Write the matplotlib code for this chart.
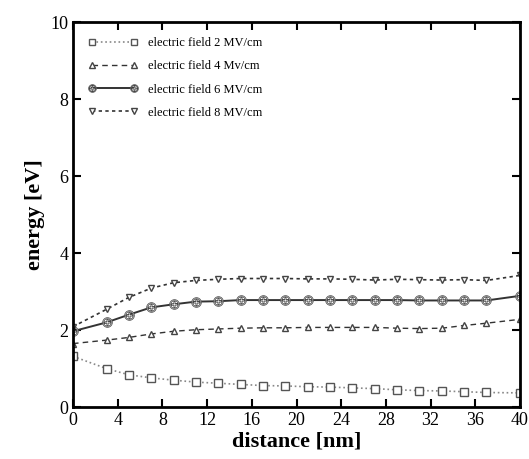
import matplotlib
matplotlib.use('Agg')
import matplotlib.pyplot as plt

distance = [0, 3, 5, 7, 9, 11, 13, 15, 17, 19, 21, 23, 25, 27, 29, 31, 33, 35, 37, 40]

field_2 = [1.32, 1.0, 0.84, 0.76, 0.70, 0.65, 0.62, 0.59, 0.56, 0.55, 0.53,
           0.52, 0.50, 0.48, 0.45, 0.43, 0.42, 0.40, 0.38, 0.37]
field_4 = [1.65, 1.74, 1.81, 1.90, 1.97, 2.01, 2.03, 2.05, 2.06, 2.06, 2.07,
           2.07, 2.07, 2.07, 2.05, 2.04, 2.05, 2.12, 2.18, 2.28]
field_6 = [1.97, 2.20, 2.40, 2.59, 2.67, 2.74, 2.75, 2.78, 2.78, 2.78, 2.78,
           2.78, 2.78, 2.78, 2.78, 2.77, 2.77, 2.77, 2.77, 2.89]
field_8 = [2.09, 2.54, 2.85, 3.09, 3.23, 3.29, 3.32, 3.34, 3.34, 3.34, 3.33,
           3.33, 3.32, 3.30, 3.32, 3.31, 3.30, 3.31, 3.29, 3.42]

etiquetas = ['electric field 2 MV/cm', 'electric field 4 Mv/cm',
             'electric field 6 MV/cm', 'electric field 8 MV/cm']

plt.rcParams['font.family'] = ['Liberation Serif', 'DejaVu Serif']

fig = plt.figure(figsize=(5.29, 4.59), dpi=100)
ax = fig.add_axes([0.138, 0.113, 0.845, 0.839])

ax.plot(distance, field_2, linestyle=':', color='#888888', lw=1.2,
        marker='s', ms=5.5, mfc='white', mec='#555555', mew=1.0, label=etiquetas[0])
ax.plot(distance, field_4, linestyle=(0, (4, 3)), color='#333333', lw=1.0,
        marker='^', ms=5, mfc='white', mec='#444444', mew=1.0, label=etiquetas[1])
ax.plot(distance, field_6, linestyle='-', color='#333333', lw=1.4,
        marker='$\\oplus$', ms=7, mfc='white', mec='#444444', mew=0.5, label=etiquetas[2])
ax.plot(distance, field_8, linestyle=(0, (2, 2)), color='#333333', lw=1.2,
        marker='v', ms=5, mfc='white', mec='#444444', mew=1.0, label=etiquetas[3])

ax.set_xlim(0, 40)
ax.set_ylim(0, 10)
ax.set_xticks(range(0, 41, 4))
ax.set_yticks(range(0, 11, 2))
ax.tick_params(direction='in', top=True, right=True, labelsize=13, width=1.5, length=6)
for s in ax.spines.values():
    s.set_linewidth(2)

ax.set_xlabel('distance [nm]', fontsize=16, fontweight='bold', labelpad=2)
ax.set_ylabel('energy [eV]', fontsize=16, fontweight='bold', labelpad=4)

ax.legend(loc='upper left', frameon=False, fontsize=9, numpoints=2, markerscale=0.8,
          handlelength=4.0, labelspacing=0.9, borderaxespad=0.8)

fig.savefig('out.png', dpi=100)
